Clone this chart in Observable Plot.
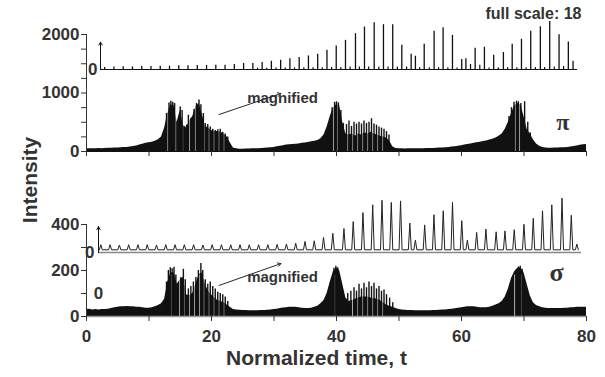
<!DOCTYPE html>
<html><head><meta charset="utf-8">
<script src="https://cdn.jsdelivr.net/npm/d3@7"></script>
<script src="https://cdn.jsdelivr.net/npm/@observablehq/plot@0.6"></script>
<style>
body{margin:0;background:#fff;}
#chart{position:relative;width:605px;height:377px;overflow:hidden;font-family:"Liberation Sans",Arial,sans-serif;}
#chart svg{position:absolute;left:0;}
#ylab{position:absolute;left:30px;top:180px;transform:translate(-50%,-50%) rotate(-90deg);font:bold 21px "Liberation Sans",Arial,sans-serif;color:#333;white-space:nowrap;}
</style></head><body>
<div id="chart"><div id="ylab">Intensity</div></div>
<script>
// ---------- data ----------
const bodyStep = 0.5; // sampling of the dense traces, t = 0 … 80
const piBodyV = [45,45,48,45,50,48,52,55,55,58,60,62,68,70,78,85,95,110,125,140,150,
 160,175,200,250,400,650,800,780,500,700,450,400,520,600,760,820,640,430,400,360,
 340,340,330,300,250,150,60,45,40,40,42,42,45,45,48,50,55,60,65,70,
 80,90,100,110,115,120,125,130,140,145,155,165,175,190,220,280,420,600,750,800,
 780,500,300,280,300,260,300,280,320,300,330,300,280,260,250,230,180,80,50,45,
 45,42,45,45,45,45,48,48,50,50,52,55,58,60,65,70,75,80,90,100,
 110,120,130,140,150,160,170,180,195,210,230,260,300,380,500,650,780,820,800,600,
 380,300,200,130,90,70,60,55,55,58,60,62,65,70,75,85,95,105,115,120];
const sigBodyV = [30,32,28,30,28,30,30,32,35,38,40,42,42,43,42,42,40,40,38,36,36,
 38,42,48,55,75,150,190,190,140,160,170,95,90,100,140,180,190,140,110,95,
 80,70,65,60,50,40,30,28,27,26,26,25,25,25,25,26,26,27,28,30,
 32,35,37,38,40,40,40,38,36,35,35,36,40,45,55,70,100,150,195,210,
 200,140,80,65,70,75,80,85,85,85,80,78,75,70,60,50,45,40,35,30,
 28,27,26,26,25,25,25,25,25,25,26,26,27,28,28,30,32,34,36,38,
 40,42,42,42,40,38,38,38,40,45,50,55,65,85,120,165,195,210,212,190,
 140,90,60,48,42,38,36,35,35,35,35,35,36,36,38,38,40,40,40,40];

// tall spikes of the main traces
const piPeakT = [12.8,13.2,13.5,13.8,14.1,14.5,15.0,15.3,15.6,16.0,16.3,16.7,17.2,17.6,18.0,18.3,18.7,19.0,19.4,19.8,20.2,20.6,21.0,21.4,21.8,22.2,22.6,
 39.3,39.7,40.0,40.3,40.7,41.1,41.6,42.0,42.4,42.8,43.2,43.6,44.0,44.4,44.8,45.2,45.6,46.0,46.4,46.8,47.2,47.6,48.0,48.4,
 67.6,68.0,68.4,68.8,69.1,69.5,70.1,70.6,71.0];
const piPeakV = [650,830,860,840,820,500,760,700,420,450,620,560,720,820,880,800,650,480,460,420,380,360,370,380,330,300,250,
 750,840,850,830,700,480,460,520,430,500,470,500,470,520,480,500,560,470,450,420,400,380,340,280,
 600,750,840,860,850,820,850,500,320];
const piSlitT = [13.0,14.3,15.45,16.5,17.4,18.85,19.6,20.4,21.2,22.0,
 39.5,40.15,41.8,42.6,43.4,44.2,45.0,45.8,46.6,47.4,
 68.6,69.3];

const sigPeakT = [12.8,13.1,13.4,13.7,14.0,14.3,14.7,15.1,15.5,15.8,16.3,16.7,17.1,17.5,17.9,18.3,18.6,19.0,19.4,19.8,20.2,20.6,21.0,21.4,21.8,22.2,22.6,
 39.6,39.9,40.2,41.8,42.3,42.8,43.2,43.6,44.0,44.4,44.8,45.2,45.6,46.0,46.4,46.8,47.2,47.6,48.0,48.5,49.0,
 68.8,69.1,69.4,69.7];
const sigPeakV = [150,200,212,208,214,180,140,170,205,160,120,130,150,170,200,230,200,160,140,150,130,120,105,100,95,85,65,
 210,218,212,100,110,125,110,140,120,145,125,150,130,145,120,130,110,115,95,80,60,
 205,215,218,205];
const sigSlitT = [13.55,14.9,15.65,16.5,17.3,18.1,18.8,19.6,20.4,21.2,22.0,
 39.75,42.55,43.4,44.2,45.0,45.8,46.6,47.4,
 68.5,69.55];

// magnified inset, π (spike number along the magnified window; full scale 18)
const piInsetT = [0,1,2,3,4,5,6,7,8,9,10,11,12,13,14,15,16,17,18,19,20,21,22,23,24,25,
 26,27.08,28.05,29.1,30.1,31.1,32.08,33.09,33.55,34.5,35.57,36.54,37.55,38.55,39.0,40,41,42,43.05,44,45,46,47.04,48.05,49.06,50.06,50.57];
const piInsetV = [0.75,0.9,1.0,1.0,1.1,1.1,1.25,1.25,1.4,1.4,1.5,1.5,1.6,1.6,1.9,2.25,2.25,2.6,3.1,3.5,4.1,4.5,5.1,5.75,7.25,8.9,
 11,13.5,16,17.6,16.9,16.9,9.1,5.75,5,9.5,14.4,15.75,12.9,3.75,4.1,8,8.4,5.4,6.4,9.5,11.4,14.4,16.1,18.1,13.1,10.4,3.1];
const piInsetMinorT = [16.5,17.5,18.5,19.5,20.5,21.5,22.5,23.5,24.5,25.5,26.5,27.5,28.5,29.6,30.6,31.6,32.6,34.0,35.05,36.05,37.05,38.05,39.5,40.5,41.5,42.5,43.5,44.5,45.5,46.5,47.5,48.55,49.55];
const piInsetMinorV = [0.5,0.5,0.6,0.6,0.6,0.7,0.7,0.7,0.8,0.8,0.9,0.9,0.9,0.9,0.9,0.9,0.9,0.7,0.7,0.7,0.7,0.6,1.9,1.6,0.6,0.7,0.7,0.7,0.7,0.8,0.8,0.9,1.1];

// magnified inset, σ (peak positions and heights)
const sigInsetT = [0,1,2,3,4,5,6,7,8,9,10,11,12,13,14,15,16,17,18,19,20,21,22,23,24,25,
 26.2,27.2,28.25,29.3,30.3,31.3,32.3,33.3,33.9,34.9,35.9,36.9,37.9,38.9,39.5,40.5,41.5,42.6,43.55,44.55,45.6,46.6,47.6,48.6,49.7,50.7,51.3];
const sigInsetV = [2.6,2.6,2.5,2.6,2.6,2.6,2.5,2.6,2.6,2.6,2.6,2.5,2.6,2.6,2.6,2.6,2.6,2.6,2.6,2.7,2.8,3.1,3.7,3.9,5.0,6.4,
 8.0,10.3,13.3,15.9,17.4,16.7,17.2,9.8,4.1,9.2,12.6,13.9,16.7,10.6,4.1,6.7,7.8,6.9,7.2,7.6,9.4,11.4,13.9,15.9,18.1,12.4,2.8];
const sigInsetValley = 0.9;     // level of the trace between peaks
const sigInsetHalfWidth = 0.16; // half width of a peak foot, in peak spacings

const xTicks = [0,10,20,30,40,50,60,70,80];
const piYTicks = [0,250,500,750,1000,1250,1500,1750,2000];
const sigYTicks = [0,100,200,300,400];

// ---------- build ----------
const bodyT = d3.range(piBodyV.length).map(i => i * bodyStep);
const piBody = bodyT.map((t, i) => ({t, v: piBodyV[i]}));
const sigBody = bodyT.map((t, i) => ({t, v: sigBodyV[i]}));
const piPeaks = piPeakT.map((t, i) => ({t, v: piPeakV[i]}));
const sigPeaks = sigPeakT.map((t, i) => ({t, v: sigPeakV[i]}));
const piIns = piInsetT.map((t, i) => ({t, v: piInsetV[i]}));
const piInsMinor = piInsetMinorT.map((t, i) => ({t, v: piInsetMinorV[i]}));
const sigInsLine = [];
sigInsetT.forEach((p, i) => {
  sigInsLine.push({t: p - sigInsetHalfWidth, v: sigInsetValley});
  sigInsLine.push({t: p, v: sigInsetV[i]});
  sigInsLine.push({t: p + sigInsetHalfWidth, v: sigInsetValley});
});

const INK = "#111";
const TXT = "#333";
const FONT = '"Liberation Sans", Arial, sans-serif';
const baseStyle = {fontFamily: FONT, fontWeight: "bold", fontSize: "17px",
  color: TXT, background: "none", overflow: "visible"};
const tickText = {fontSize: 17, fontWeight: "bold"};
const chart = document.getElementById("chart");
function place(svg, top) { svg.style.top = top + "px"; chart.appendChild(svg); }

// π main panel
place(Plot.plot({
  width: 605, height: 175, marginTop: 34, marginBottom: 24, marginLeft: 86, marginRight: 19,
  style: baseStyle,
  x: {domain: [0, 80], axis: null},
  y: {domain: [0, 2000], axis: null},
  marks: [
    Plot.areaY(piBody, {x: "t", y: "v", fill: INK}),
    Plot.ruleX(piSlitT, {x: d => d, y1: 0, y2: 1000, stroke: "white", strokeWidth: 0.7}),
    Plot.ruleX(piPeaks, {x: "t", y1: 0, y2: "v", stroke: INK, strokeWidth: 1.4}),
    Plot.ruleY([0], {stroke: INK}),
    Plot.ruleX([0], {y1: 0, y2: 2000, stroke: TXT}),
    Plot.axisY({ticks: piYTicks, tickSize: 5, tickPadding: 2, label: null, ...tickText,
      tickFormat: d => d % 1000 === 0 ? String(d) : ""}),
    Plot.axisX({ticks: xTicks, tickSize: 5, label: null, tickFormat: () => ""}),
    Plot.arrow([{x1: 21.2, y1: 632, x2: 31.1, y2: 991}], {x1: "x1", y1: "y1", x2: "x2", y2: "y2", stroke: INK, strokeWidth: 0.9, headLength: 6}),
    Plot.text(["magnified"], {x: 25.7, y: 906, textAnchor: "start", fontSize: 15, fontWeight: "bold", fill: TXT}),
    Plot.text(["π"], {x: 76.2, y: 496, fontSize: 24, fontWeight: "bold", fontFamily: '"Liberation Serif", serif', fill: TXT}),
    Plot.text(["full scale: 18"], {frameAnchor: "top-right", dx: -5, dy: -27, fontSize: 16, fontWeight: "bold", fill: TXT})
  ]
}), 0);

// π magnified inset
place(Plot.plot({
  width: 605, height: 80, marginTop: 21, marginBottom: 11, marginLeft: 100, marginRight: 28,
  style: baseStyle,
  x: {domain: [-0.45, 51.05], axis: null},
  y: {domain: [0, 18.1], axis: null},
  marks: [
    Plot.ruleY([0], {stroke: INK, strokeWidth: 1.2}),
    Plot.ruleX(piInsMinor, {x: "t", y1: 0, y2: "v", stroke: INK, strokeWidth: 1.2}),
    Plot.ruleX(piIns, {x: "t", y1: 0, y2: "v", stroke: INK, strokeWidth: 1.3}),
    Plot.arrow([{x: -0.45, y1: 0, y2: 10.3}], {x1: "x", x2: "x", y1: "y1", y2: "y2", stroke: INK, strokeWidth: 1, headLength: 5}),
    Plot.axisY({ticks: [0], tickSize: 0, tickPadding: 3, label: null, ...tickText})
  ]
}), 0);

// σ main panel
place(Plot.plot({
  width: 605, height: 202, marginTop: 49, marginBottom: 61, marginLeft: 86, marginRight: 19,
  style: baseStyle,
  x: {domain: [0, 80], axis: null},
  y: {domain: [0, 400], axis: null},
  marks: [
    Plot.areaY(sigBody, {x: "t", y: "v", fill: INK}),
    Plot.ruleX(sigSlitT, {x: d => d, y1: 0, y2: 180, stroke: "white", strokeWidth: 0.7}),
    Plot.ruleX(sigPeaks, {x: "t", y1: 0, y2: "v", stroke: INK, strokeWidth: 1.4}),
    Plot.ruleY([0], {stroke: "#999", strokeWidth: 1.5}),
    Plot.ruleX([0], {y1: 0, y2: 400, stroke: TXT}),
    Plot.axisY({ticks: sigYTicks, tickSize: 5, tickPadding: 2, label: null, ...tickText,
      tickFormat: d => d % 200 === 0 ? String(d) : ""}),
    Plot.axisX({ticks: xTicks, tickSize: 5, tickPadding: 8, label: null, ...tickText,
      tickFormat: d => d % 20 === 0 ? String(d) : ""}),
    Plot.text(["Normalized time, t"], {frameAnchor: "bottom", dx: -20, dy: 48, fontSize: 21, fontWeight: "bold", fill: TXT}),
    Plot.arrow([{x1: 21.2, y1: 135, x2: 31.1, y2: 230}], {x1: "x1", y1: "y1", x2: "x2", y2: "y2", stroke: INK, strokeWidth: 0.9, headLength: 6}),
    Plot.text(["magnified"], {x: 25.7, y: 170, textAnchor: "start", fontSize: 15, fontWeight: "bold", fill: TXT}),
    Plot.text(["σ"], {x: 75.2, y: 191, fontSize: 26, fontWeight: "bold", fontFamily: '"Liberation Serif", serif', fill: TXT}),
    Plot.text(["0"], {x: 1.9, y: 100, fontSize: 17, fontWeight: "bold", fill: TXT})
  ]
}), 175);

// σ magnified inset
place(Plot.plot({
  width: 605, height: 90, marginTop: 17, marginBottom: 13, marginLeft: 98, marginRight: 24,
  style: baseStyle,
  x: {domain: [-0.25, 51.8], axis: null},
  y: {domain: [0, 20], axis: null},
  marks: [
    Plot.ruleY([0], {stroke: "#888", strokeWidth: 1.5}),
    Plot.line(sigInsLine, {x: "t", y: "v", stroke: "#222", strokeWidth: 1}),
    Plot.arrow([{x: -0.25, y1: 0, y2: 8.6}], {x1: "x", x2: "x", y1: "y1", y2: "y2", stroke: INK, strokeWidth: 1, headLength: 5}),
    Plot.axisY({ticks: [0], tickSize: 0, tickPadding: 4, label: null, ...tickText})
  ]
}), 175);
</script>
</body></html>
